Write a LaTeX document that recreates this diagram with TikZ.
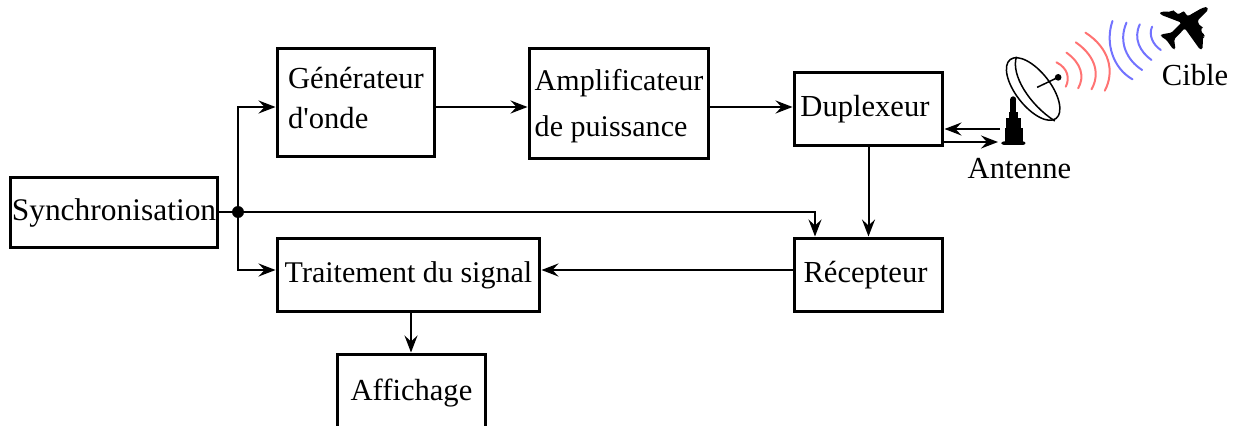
\documentclass[tikz,border=0pt]{standalone}
\usepackage{fontspec}
\setmainfont{Liberation Serif}
\newfontfamily\plainfont{Liberation Serif}
\usetikzlibrary{arrows.meta}
\tikzset{
    block/.style={draw, line width=0.6mm, minimum width=#1, inner sep=0pt, font=\fontsize{17.4}{23}\selectfont, align=left},
    link/.style={->, >={Stealth[length=3.4mm, width=2.6mm, inset=1.2mm]}, line width=0.4mm},
    label/.style={inner sep=0pt, font=\fontsize{17.4}{23}\selectfont},
    waves/.style={line width=0.4mm, line cap=round}
}
\begin{document}
\begin{tikzpicture}[x=0.02cm, y=-0.02cm]
    \useasboundingbox (0,0) rectangle (1241,426);
    % blocks
    \node[block=41.6mm, minimum height=14.2mm, font=\fontsize{17.9}{23}\selectfont] (sync) at (114,212.5) {Synchronisation};
    \node[block=31.6mm, minimum height=21.8mm, text depth=5pt] (gen) at (356,102.5) {G\'en\'erateur\hspace{2.3pt}\\d{\plainfont'}onde};
    \node[block=36mm, minimum height=22.2mm, font=\fontsize{17.1}{23}\selectfont] (ampli) at (619,103.5) {\rule{0pt}{15.1pt}Amplificateur\\[3pt]de puissance};
    \node[block=29.8mm, minimum height=14.8mm] (dup) at (868.5,109) {Duplexeur\hspace{4pt}};
    \node[block=29.8mm, minimum height=14.8mm] (recep) at (868.5,275) {R\'ecepteur\hspace{3.4pt}};
    \node[block=52.6mm, minimum height=14.8mm, font=\fontsize{17.1}{23}\selectfont] (trait) at (408.5,275) {Traitement du signal};
    \node[block=29.8mm, minimum height=14.8mm, text height=14.2pt] (aff) at (411.5,391) {Affichage};
    % labels
    \node[label] (antenne) at (1019.5,169) {Antenne};
    \node[label] (cible) at (1195,75) {Cible};
    % connectors
    \fill (238,212) coordinate (hub) circle[radius=1.2mm];
    \draw[link, -] (sync.east |- hub) -- (hub);
    \draw[link] (hub) |- (gen.west |- 0,107);
    \draw[link] (hub) |- (trait.west |- 0,270);
    \draw[link] (hub) -| (recep.north -| 815,0);
    \draw[link] (gen.east |- 0,107) -- (ampli.west |- 0,107);
    \draw[link] (ampli.east |- 0,107) -- (dup.west |- 0,107);
    \draw[link] (dup.south) -- (recep.north);
    \draw[link] (recep.west |- 0,270) -- (trait.east |- 0,270);
    \draw[link] (trait.south -| 411,0) -- (aff.north -| 411,0);
    \coordinate (antin) at (1000,129);
    \coordinate (antout) at (998,142);
    \draw[link] (antin) -- (antin -| dup.east);
    \draw[link] (antout -| dup.east) -- (antout);
    % antenna
    \begin{scope}[shift={(18.8cm,0)}, x=0.00667cm, y=-0.00667cm]
        \draw[line width=0.3mm] (280,267) ellipse[x radius=112, y radius=52, rotate=-52];
        \draw[line width=0.3mm] (230,170) .. controls (212,225) and (270,315) .. (345,363);
        \draw[line width=0.3mm] (292,262) -- (355,232);
        \fill (355,232) circle[radius=10];
        % tower
        \fill (220,298) circle[radius=9];
        \fill (212,298) rectangle (230,335);
        \fill (207,335) rectangle (235,355);
        \fill (200,355) rectangle (243,385);
        \fill (195,385) rectangle (250,425);
        \fill[rounded corners=0.5mm] (185,424) rectangle (257,435);
        % red waves
        \draw[waves, red!55] (350,187) .. controls (385,205) and (390,235) .. (378,260);
        \draw[waves, red!55] (380,158) .. controls (425,190) and (435,230) .. (415,265);
        \draw[waves, red!55] (408,127) .. controls (470,170) and (480,225) .. (455,268);
        \draw[waves, red!55] (437,98) .. controls (510,145) and (525,215) .. (495,272);
        % blue waves
        \draw[waves, blue!55] (518,63) .. controls (495,130) and (520,205) .. (578,238);
        \draw[waves, blue!55] (560,68) .. controls (535,125) and (560,180) .. (607,210);
        \draw[waves, blue!55] (600,73) .. controls (580,115) and (600,155) .. (635,180);
        \draw[waves, blue!55] (637,80) .. controls (625,105) and (640,135) .. (663,150);
        % plane
        \fill[rounded corners=0.3mm] (802,20) -- (805,30) -- (773,62) -- (780,78) -- (790,80) -- (788,85) -- (783,85) -- (788,102) -- (796,104) -- (793,110) -- (790,110) -- (788,148) -- (780,148) -- (735,85) -- (703,118) -- (707,148) -- (700,148) -- (680,120) -- (662,108) -- (665,103) -- (695,98) -- (725,68) -- (665,45) -- (658,38) -- (675,34) -- (692,36) -- (698,30) -- (705,32) -- (708,40) -- (722,42) -- (728,33) -- (736,35) -- (738,45) -- (745,48) -- (785,25) -- cycle;
    \end{scope}
\end{tikzpicture}
\end{document}
